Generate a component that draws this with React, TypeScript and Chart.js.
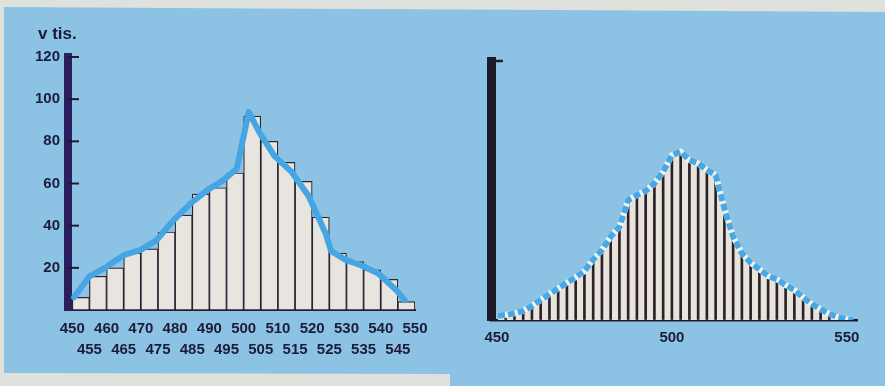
import React, { useEffect, useRef } from 'react';
import { Chart, registerables } from 'chart.js';

Chart.register(...registerables);

// ---------- Left panel: histogram (v tis.) ----------
const unitLabel = 'v tis.';
const histBinCenters = [
  452.5, 457.5, 462.5, 467.5, 472.5, 477.5, 482.5, 487.5, 492.5, 497.5,
  502.5, 507.5, 512.5, 517.5, 522.5, 527.5, 532.5, 537.5, 542.5, 547.5,
];
const histValues = [6, 16, 20, 27, 29, 37, 45, 55, 58, 65, 92, 80, 70, 61, 44, 27, 23, 19, 14.5, 4];
const histXTicks = [
  450, 455, 460, 465, 470, 475, 480, 485, 490, 495, 500,
  505, 510, 515, 520, 525, 530, 535, 540, 545, 550,
];
const histYTicks = [20, 40, 60, 80, 100, 120];
const trendX = [
  450.5, 455, 460, 465, 470, 474.5, 479.5, 484.5, 489.5, 494, 498, 501.5,
  504.5, 509, 514, 519, 524, 525.5, 529.5, 534.5, 539.2, 544.5, 547,
];
const trendY = [
  6, 16, 20.5, 26, 28.5, 33, 42.5, 50.5, 57, 61.5, 67, 94,
  84.5, 73, 65.5, 54, 36, 28, 24, 21, 17.4, 9.5, 4.7,
];

// ---------- Right panel: fine spikes ----------
const spikeX = [
  452.5, 455, 457.5, 460, 462.5, 465, 467.5, 470, 472.5, 475,
  477.5, 480, 482.5, 485, 487.5, 490, 492.5, 495, 497.5, 500,
  502.5, 505, 507.5, 510, 512.5, 515, 517.5, 520, 522.5, 525,
  527.5, 530, 532.5, 535, 537.5, 540, 542.5, 545, 547.5, 550,
];
const spikeY = [
  2.3, 3.1, 4.2, 6.5, 9.3, 12, 14.7, 17.3, 19.8, 22.7,
  28.1, 32.4, 38.6, 43.2, 55.6, 57.9, 59.8, 63.3, 68.7, 76.4,
  78, 74.1, 72.6, 69.5, 67.2, 51.7, 38.6, 30.9, 26.5, 23.5,
  20.4, 18.9, 16.2, 13.9, 10.5, 7.4, 5, 2.8, 1.3, 0.3,
];
const envelopeStart = { x: 450.3, y: 2 };
const envelopeEnd = { x: 551.8, y: 0 };
const rightXTicks = [450, 500, 550];

const TEXT = '#1d1b3a';
const FONT = "'Liberation Sans', Arial, sans-serif";

function inwardTicks(values: number[], length: number, width: number, color: string) {
  return {
    id: 'inwardTicks',
    afterDatasetsDraw(chart: any) {
      const { ctx, chartArea, scales } = chart;
      ctx.save();
      ctx.strokeStyle = color;
      ctx.lineWidth = width;
      for (const v of values) {
        const py = scales.y.getPixelForValue(v);
        ctx.beginPath();
        ctx.moveTo(chartArea.left, py);
        ctx.lineTo(chartArea.left + length, py);
        ctx.stroke();
      }
      ctx.restore();
    },
  };
}

// unit caption placed above the y axis (drawn as canvas text)
function unitCaption(text: string, dx: number, y: number) {
  return {
    id: 'unitCaption',
    afterDraw(chart: any) {
      const { ctx, chartArea } = chart;
      ctx.save();
      ctx.fillStyle = TEXT;
      ctx.font = `bold 17px ${FONT}`;
      ctx.textAlign = 'left';
      ctx.textBaseline = 'middle';
      ctx.fillText(text, chartArea.left + dx, y);
      ctx.restore();
    },
  };
}

export default function App() {
  const leftRef = useRef<HTMLCanvasElement>(null);
  const rightRef = useRef<HTMLCanvasElement>(null);

  useEffect(() => {
    Chart.defaults.font.family = FONT;
    Chart.defaults.color = TEXT;
    const tickFont = { size: 15, weight: 'bold' as const, family: FONT };

    const left = new Chart(leftRef.current!, {
      type: 'bar',
      data: {
        datasets: [
          {
            type: 'line',
            data: trendX.map((x, i) => ({ x, y: trendY[i] })),
            borderColor: '#45a6e3',
            borderWidth: 6,
            pointRadius: 0,
            tension: 0,
            borderJoinStyle: 'round',
            borderCapStyle: 'round',
            order: 0,
          } as any,
          {
            type: 'bar',
            data: histBinCenters.map((x, i) => ({ x, y: histValues[i] })),
            backgroundColor: '#e8e5de',
            borderColor: '#2b2433',
            borderWidth: 1.2,
            borderSkipped: false,
            barPercentage: 1,
            categoryPercentage: 1,
            order: 1,
          } as any,
        ],
      },
      options: {
        animation: false,
        responsive: false,
        devicePixelRatio: 1,
        layout: { padding: { left: 0, right: 25, top: 57, bottom: 0 } },
        plugins: {
          legend: { display: false },
          tooltip: { enabled: false },
          title: { display: false },
        },
        scales: {
          x: {
            type: 'linear',
            min: 448.75,
            max: 550,
            offset: false,
            afterBuildTicks: (s: any) => {
              s.ticks = histXTicks.map((v) => ({ value: v }));
            },
            afterFit: (s: any) => {
              s.height = 76;
            },
            grid: { display: true, drawOnChartArea: false, drawTicks: false, offset: false },
            border: { display: true, color: '#241c35', width: 2 },
            ticks: {
              autoSkip: false,
              maxRotation: 0,
              minRotation: 0,
              padding: 8,
              color: TEXT,
              font: { ...tickFont, lineHeight: 1.4 },
              callback: (v: any) => (Number(v) % 10 === 0 ? String(v) : ['', String(v)]),
            },
          },
          y: {
            type: 'linear',
            min: 0,
            max: 120,
            afterBuildTicks: (s: any) => {
              s.ticks = histYTicks.map((v) => ({ value: v }));
            },
            afterFit: (s: any) => {
              s.width = 68;
            },
            grid: { display: true, drawOnChartArea: false, drawTicks: false },
            border: { display: true, color: '#2a1f5c', width: 8 },
            ticks: { padding: 8, color: TEXT, font: tickFont },
          },
        },
      } as any,
      plugins: [inwardTicks(histYTicks, 11, 2, '#1f1830'), unitCaption(unitLabel, -30, 34)],
    });

    const envelope = [
      envelopeStart,
      ...spikeX.map((x, i) => ({ x, y: spikeY[i] })),
      envelopeEnd,
    ];

    const right = new Chart(rightRef.current!, {
      type: 'bar',
      data: {
        datasets: [
          {
            type: 'line',
            data: envelope,
            borderColor: '#f2f3ef',
            borderWidth: 6,
            pointRadius: 0,
            tension: 0,
            fill: 'origin',
            backgroundColor: '#e9e4db',
            order: 1,
          } as any,
          {
            type: 'line',
            data: envelope,
            borderColor: '#47a8e6',
            borderWidth: 6,
            borderDash: [7, 3],
            pointRadius: 0,
            tension: 0,
            fill: false,
            order: 0,
          } as any,
          {
            type: 'bar',
            data: spikeX.map((x, i) => ({ x, y: spikeY[i] })),
            backgroundColor: '#2a2228',
            barThickness: 2,
            order: 2,
          } as any,
        ],
      },
      options: {
        animation: false,
        responsive: false,
        devicePixelRatio: 1,
        layout: { padding: { left: 0, right: 28, top: 61, bottom: 0 } },
        plugins: {
          legend: { display: false },
          tooltip: { enabled: false },
          filler: { drawTime: 'beforeDatasetsDraw' },
        },
        scales: {
          x: {
            type: 'linear',
            min: 448.3,
            max: 552.9,
            offset: false,
            afterBuildTicks: (s: any) => {
              s.ticks = rightXTicks.map((v) => ({ value: v }));
            },
            afterFit: (s: any) => {
              s.height = 66;
            },
            grid: { display: true, drawOnChartArea: false, drawTicks: false, offset: false },
            border: { display: true, color: '#1f1a2a', width: 2.5 },
            ticks: { autoSkip: false, maxRotation: 0, padding: 8.5, color: TEXT, font: tickFont },
          },
          y: {
            type: 'linear',
            min: 0,
            max: 120,
            afterFit: (s: any) => {
              s.width = 51;
            },
            grid: { display: true, drawOnChartArea: false, drawTicks: false },
            border: { display: true, color: '#1f1a2a', width: 9 },
            ticks: { display: false },
          },
        },
      } as any,
      plugins: [inwardTicks([120], 12, 2.5, '#1f1a2a')],
    });

    return () => {
      left.destroy();
      right.destroy();
    };
  }, []);

  return (
    <div
      style={{
        position: 'absolute',
        left: 0,
        top: 0,
        width: 885,
        height: 386,
        background: '#dfe1dd',
        overflow: 'hidden',
      }}
    >
      <div
        style={{
          position: 'absolute',
          left: 0,
          top: 0,
          width: 885,
          height: 386,
          background: '#8cc3e5',
          clipPath:
            'polygon(4px 7px, 885px 12px, 885px 386px, 450px 386px, 450px 374px, 4px 373px)',
        }}
      />
      <canvas
        ref={leftRef}
        width={440}
        height={386}
        style={{ position: 'absolute', left: 0, top: 0, width: 440, height: 386 }}
      />
      <canvas
        ref={rightRef}
        width={445}
        height={386}
        style={{ position: 'absolute', left: 440, top: 0, width: 445, height: 386 }}
      />
    </div>
  );
}
